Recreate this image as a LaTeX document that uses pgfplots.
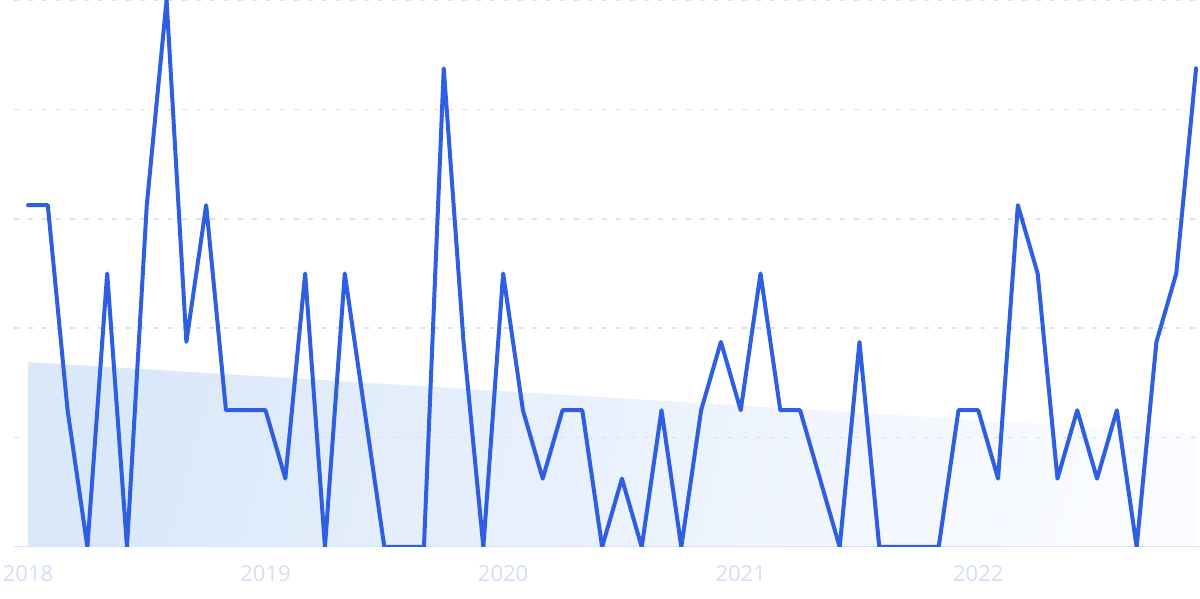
\documentclass[border=0pt]{standalone}
\usepackage{pgfplots}
\pgfplotsset{compat=1.18}
\usepackage{fontspec}
\setmainfont{Open Sans}
\definecolor{linec}{RGB}{46,94,226}
\definecolor{labc}{RGB}{212,221,246}
\definecolor{gridc}{RGB}{214,224,250}
\definecolor{basec}{RGB}{216,226,248}
\definecolor{shadeL}{RGB}{219,232,250}
\definecolor{shadeR}{RGB}{249,251,255}
\begin{document}
\begin{tikzpicture}
\path[use as bounding box] (0,0) rectangle (600bp,299.5bp);
\begin{axis}[
  at={(7bp,26bp)}, anchor=south west,
  scale only axis, width=593bp, height=273.5bp,
  xmin=-0.707, xmax=59.2, ymin=0, ymax=8,
  axis line style={draw=none},
  tick style={draw=none},
  xtick={0,12,24,36,48},
  xticklabels={2018,2019,2020,2021,2022},
  ytick={1.6,3.2,4.8,6.4,8},
  yticklabels={},
  ymajorgrids,
  major grid style={draw=gridc, line width=0.8bp, dash pattern=on 2.7bp off 4.3bp},
  /pgf/number format/assume math mode=true,
  xticklabel style={font=\fontsize{11bp}{13bp}\selectfont, text=labc, yshift=-5.6bp},
  clip=true,
]
\addplot[draw=none, left color=shadeL, right color=shadeR, shading angle=75] coordinates {(0,2.705) (59,1.661)} \closedcycle;
\draw[draw=gridc, line width=0.8bp, dash pattern=on 2.7bp off 4.3bp] (rel axis cs:0,0.2) -- (rel axis cs:1,0.2);
\draw[draw=basec, line width=1bp] (rel axis cs:0,0) -- (rel axis cs:1,0);
\addplot[color=linec, line width=2bp, line join=round, line cap=round] coordinates {
(0,5) (1,5) (2,2) (3,0) (4,4) (5,0) (6,5) (7,8) (8,3) (9,5) (10,2) (11,2)
(12,2) (13,1) (14,4) (15,0) (16,4) (17,2) (18,0) (19,0) (20,0) (21,7) (22,3) (23,0)
(24,4) (25,2) (26,1) (27,2) (28,2) (29,0) (30,1) (31,0) (32,2) (33,0) (34,2) (35,3)
(36,2) (37,4) (38,2) (39,2) (40,1) (41,0) (42,3) (43,0) (44,0) (45,0) (46,0) (47,2)
(48,2) (49,1) (50,5) (51,4) (52,1) (53,2) (54,1) (55,2) (56,0) (57,3) (58,4) (59,7)
};
\end{axis}
\end{tikzpicture}
\end{document}
